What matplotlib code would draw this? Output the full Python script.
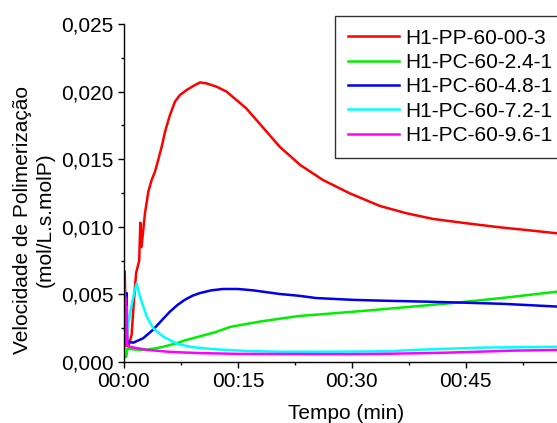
import matplotlib
matplotlib.use("Agg")
import matplotlib.pyplot as plt
import matplotlib.ticker as ticker

plt.rcParams["font.family"] = ["Liberation Sans", "DejaVu Sans"]

# time in minutes, rate in mol/L.s.molP
t_pp = [0.0, 0.1, 0.25, 0.6, 1.0, 1.3, 1.6, 2.0, 2.15, 2.3, 2.76, 3.2, 3.64, 4.08, 4.5,
        4.96, 5.4, 6.05, 6.7, 7.37, 8.25, 9.1, 10.0, 10.9, 12.2, 13.5, 14.8, 16.1,
        17.9, 20.5, 23.2, 26.2, 29.7, 33.7, 37.2, 40.7, 45.1, 49.5, 53.0, 57.0]
v_pp = [0.0010, 0.0067, 0.0012, 0.0012, 0.0020, 0.0045, 0.0066, 0.0075, 0.0103, 0.0085,
        0.0110, 0.0126, 0.01346, 0.01408, 0.01494, 0.01592, 0.01703, 0.01827, 0.01925,
        0.01975, 0.02012, 0.02041, 0.02068, 0.0206, 0.02036, 0.0200, 0.01938, 0.01876,
        0.01760, 0.01592, 0.01457, 0.01346, 0.01248, 0.01154, 0.0110, 0.01058, 0.01026,
        0.00996, 0.00976, 0.00952]

t_24 = [0.0, 0.3, 0.45, 1.0, 2.0, 3.0, 4.0, 5.0, 6.0, 7.0, 8.0, 9.0, 10.0, 12.0, 14.0,
        16.0, 18.0, 20.5, 23.0, 28.0, 33.0, 38.0, 44.0, 50.0, 57.0]
v_24 = [0.0003, 0.0004, 0.0010, 0.00095, 0.0009, 0.00092, 0.0010, 0.0011, 0.00125,
        0.0014, 0.0016, 0.00175, 0.0019, 0.0022, 0.0026, 0.0028, 0.0030, 0.0032, 0.0034,
        0.00362, 0.00385, 0.0041, 0.0044, 0.00475, 0.0052]

t_48 = [0.0, 0.15, 0.35, 0.43, 1.23, 2.5, 3.86, 5.0, 6.0, 7.0, 8.0, 9.0, 10.0, 11.5,
        13.0, 15.0, 17.0, 20.5, 23.0, 25.3, 30.0, 33.7, 40.0, 44.7, 50.0, 57.0]
v_48 = [0.0012, 0.0044, 0.0051, 0.0015, 0.00143, 0.00175, 0.0024, 0.0031, 0.0037,
        0.0042, 0.0046, 0.0049, 0.0051, 0.0053, 0.0054, 0.0054, 0.0053, 0.00503, 0.0049,
        0.00473, 0.0046, 0.00454, 0.00446, 0.00439, 0.0043, 0.0041]

t_72 = [0.0, 0.3, 0.6, 1.0, 1.4, 1.67, 2.1, 3.0, 3.86, 5.17, 7.1, 9.0, 12.0, 16.0, 20.5,
        25.0, 30.0, 35.0, 38.0, 42.0, 46.8, 50.0, 57.0]
v_72 = [0.0012, 0.0014, 0.0030, 0.0042, 0.0053, 0.0058, 0.00483, 0.00335, 0.00249,
        0.00187, 0.00133, 0.0011, 0.00094, 0.00082, 0.00076, 0.00076, 0.00077, 0.0008,
        0.00089, 0.00097, 0.00106, 0.00108, 0.00113]

t_96 = [0.0, 0.05, 0.12, 0.2, 0.28, 0.35, 0.42, 0.6, 1.0, 2.0, 3.0, 4.0, 6.0, 8.0, 10.0,
        15.0, 20.5, 25.0, 30.0, 33.7, 38.0, 42.4, 46.0, 51.2, 57.0]
v_96 = [0.0005, 0.0055, 0.0012, 0.0048, 0.0015, 0.0041, 0.0012, 0.00115, 0.0011, 0.0010,
        0.0009, 0.00085, 0.00075, 0.0007, 0.00066, 0.0006, 0.00059, 0.00058, 0.00058,
        0.0006, 0.00064, 0.00069, 0.00075, 0.00084, 0.00089]

series = [
    ("H1-PP-60-00-3", t_pp, v_pp, "#ff0000"),
    ("H1-PC-60-2.4-1", t_24, v_24, "#00ee00"),
    ("H1-PC-60-4.8-1", t_48, v_48, "#0000ee"),
    ("H1-PC-60-7.2-1", t_72, v_72, "#00ffff"),
    ("H1-PC-60-9.6-1", t_96, v_96, "#ff00ff"),
]

W, H = 557, 423
FS = 15
fig = plt.figure(figsize=(W / 100, H / 100), dpi=100)
ax = fig.add_axes([124 / W, (H - 362) / H, (W - 124) / W, (362 - 24) / H])

for label, t, v, c in series:
    ax.plot(t, v, color=c, lw=1.8, label=label)

ax.set_xlim(0, 57)
ax.set_ylim(0, 0.025)
ax.spines["top"].set_visible(False)
ax.spines["right"].set_visible(False)
for s in ("left", "bottom"):
    ax.spines[s].set_linewidth(1.0)

ax.xaxis.set_major_locator(ticker.MultipleLocator(15))
ax.xaxis.set_minor_locator(ticker.MultipleLocator(7.5))
ax.yaxis.set_major_locator(ticker.MultipleLocator(0.005))
ax.yaxis.set_minor_locator(ticker.MultipleLocator(0.0025))
ax.xaxis.set_major_formatter(ticker.FuncFormatter(lambda v, p: f"00:{int(round(v)):02d}"))
ax.yaxis.set_major_formatter(ticker.FuncFormatter(lambda v, p: f"{v:.3f}".replace(".", ",")))
ax.tick_params(which="major", length=4.5, width=1.0, labelsize=FS, pad=3)
ax.tick_params(which="minor", length=2.5, width=1.0)

fig.text(34 / W, 1 - 220 / H, "Velocidade de Polimerização\n(mol/L.s.molP)",
         rotation=90, ha="center", va="center", multialignment="center", fontsize=FS)
fig.text(346 / W, 1 - 413 / H, "Tempo (min)", ha="center", va="center", fontsize=FS)

leg = ax.legend(loc="upper left", bbox_to_anchor=(335 / W, 1 - 16 / H),
                bbox_transform=fig.transFigure, fontsize=FS, frameon=True,
                fancybox=False, borderaxespad=0, borderpad=0.6, handlelength=2.45,
                handletextpad=0.3, labelspacing=0.26)
leg.get_frame().set_edgecolor("black")
leg.get_frame().set_linewidth(1.0)

fig.savefig("out.png", dpi=100)
